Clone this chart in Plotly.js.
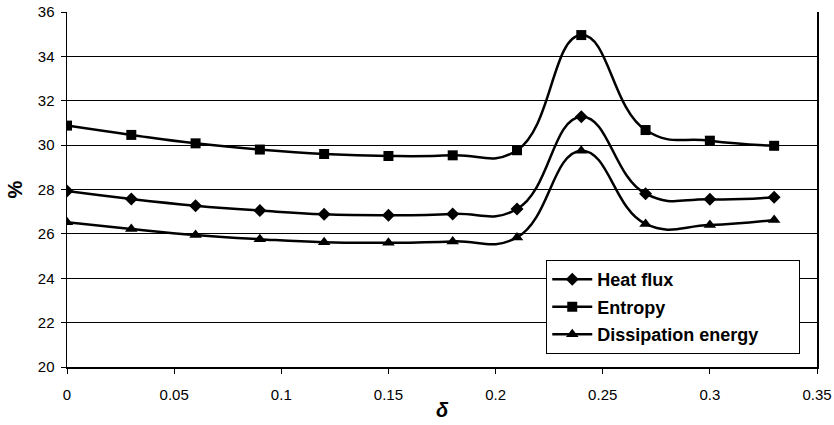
<!DOCTYPE html>
<html>
<head>
<meta charset="utf-8">
<script src="https://cdn.plot.ly/plotly-3.0.1.min.js"></script>
<style>html,body{margin:0;padding:0;background:#fff;}#chart{width:834px;height:425px;}</style>
</head>
<body>
<div id="chart"></div>
<script>
const delta = [0, 0.03, 0.06, 0.09, 0.12, 0.15, 0.18, 0.21, 0.24, 0.27, 0.30, 0.33];
const heatFlux = [27.93, 27.57, 27.27, 27.05, 26.88, 26.84, 26.90, 27.12, 31.28, 27.81, 27.56, 27.65];
const entropy = [30.88, 30.46, 30.08, 29.80, 29.60, 29.51, 29.54, 29.77, 34.96, 30.68, 30.20, 29.97];
const dissipation = [26.52, 26.22, 25.95, 25.76, 25.62, 25.60, 25.66, 25.84, 29.75, 26.45, 26.40, 26.63];
const seriesNames = ['Heat flux', 'Entropy', 'Dissipation energy'];
const xTicks = [0, 0.05, 0.1, 0.15, 0.2, 0.25, 0.3, 0.35];
const xTickText = ['0', '0.05', '0.1', '0.15', '0.2', '0.25', '0.3', '0.35'];
const yTicks = [20, 22, 24, 26, 28, 30, 32, 34, 36];

const font = 'Arial, "Liberation Sans", sans-serif';
function tr(y, name, symbol, size, grp, pad) {
  return {
    x: delta, y: y, name: '<b>' + name + '</b>' + pad, legendgroup: grp,
    type: 'scatter', mode: 'lines+markers',
    line: {color: '#000', width: 2.5, shape: 'spline', smoothing: 1.3},
    marker: {symbol: symbol, size: size, color: '#000'}
  };
}
const data = [
  tr(heatFlux, seriesNames[0], 'diamond', 10, 'a', ''),
  tr(entropy, seriesNames[1], 'square', 10, 'b', ''),
  tr(dissipation, seriesNames[2], 'triangle-up', 11, 'c', '&nbsp;&nbsp;&nbsp;&nbsp;&nbsp;&nbsp;&nbsp;')
];
const layout = {
  width: 834, height: 425,
  margin: {l: 67, r: 17, t: 12, b: 58},
  paper_bgcolor: '#fff', plot_bgcolor: '#fff',
  font: {family: font, size: 15, color: '#000'},
  showlegend: true,
  legend: {
    x: 0.639, y: 0.301, xanchor: 'left', yanchor: 'top',
    bgcolor: '#fff', bordercolor: '#000', borderwidth: 1,
    font: {family: font, size: 18, color: '#000'},
    itemwidth: 40, tracegroupgap: 1, traceorder: 'grouped'
  },
  xaxis: {
    range: [0, 0.35], tickvals: xTicks, ticktext: xTickText,
    showgrid: false, zeroline: false,
    showline: true, linecolor: '#000', linewidth: 2,
    ticks: 'outside', ticklen: 5, tickcolor: '#000', tickwidth: 1,
    ticklabelstandoff: 8,
    tickfont: {family: font, size: 15, color: '#000'},
    title: {text: '<b><i>δ</i></b>', font: {family: font, size: 20, color: '#000'}, standoff: 1}
  },
  yaxis: {
    range: [20, 36], tickvals: yTicks,
    showgrid: true, gridcolor: '#000', gridwidth: 1,
    zeroline: false,
    showline: true, linecolor: '#000', linewidth: 1.5, mirror: true,
    ticks: 'outside', ticklen: 5, tickcolor: '#000', tickwidth: 1,
    ticklabelstandoff: 3,
    tickfont: {family: font, size: 15, color: '#000'},
    title: {text: '<b>%</b>', font: {family: font, size: 20, color: '#000'}, standoff: 10}
  }
};
Plotly.newPlot('chart', data, layout, {displayModeBar: false, staticPlot: true});
</script>
</body>
</html>
